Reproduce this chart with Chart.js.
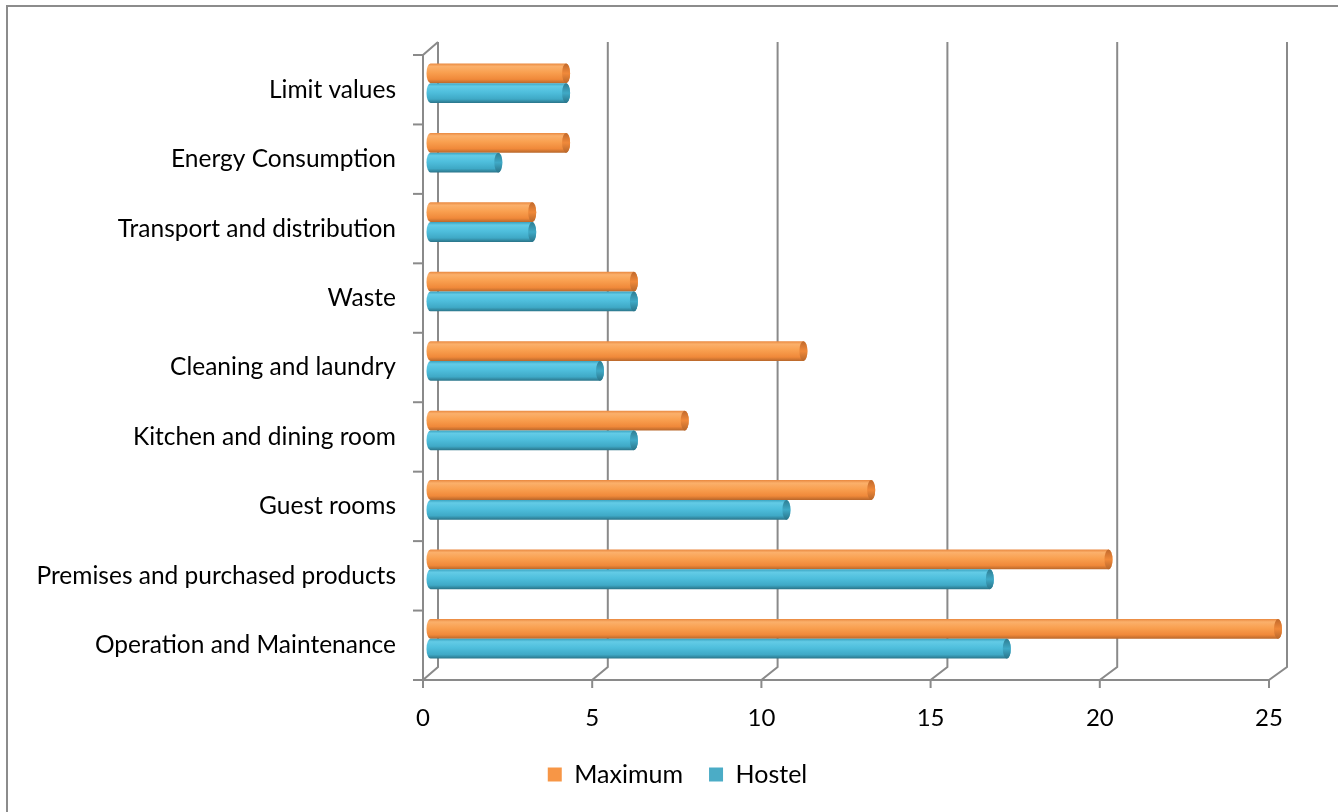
<!DOCTYPE html>
<html>
<head>
<meta charset="utf-8">
<script src="https://cdn.jsdelivr.net/npm/chart.js@4.4.1/dist/chart.umd.min.js"></script>
<style>
  html,body{margin:0;padding:0;background:#fff;overflow:hidden;}
  #wrap{position:absolute;left:0;top:0;width:1338px;height:812px;}
  #frame{position:absolute;left:6px;top:5px;width:1400px;height:900px;border-left:2px solid #8c8c8c;border-top:2px solid #8c8c8c;}
  canvas{position:absolute;left:0;top:0;}
</style>
</head>
<body>
<div id="wrap">
  <div id="frame"></div>
  <canvas id="c" width="1338" height="812"></canvas>
</div>
<script>
const categories = ["Limit values","Energy Consumption","Transport and distribution","Waste","Cleaning and laundry","Kitchen and dining room","Guest rooms","Premises and purchased products","Operation and Maintenance"];
const maximumValues = [4, 4, 3, 6, 11, 7.5, 13, 20, 25];
const hostelValues  = [4, 2, 3, 6, 5, 6, 10.5, 16.5, 17];
const xTicks = [0, 5, 10, 15, 20, 25];

const FONT = "Lato, 'Open Sans', sans-serif";

function shade(ctx, top, h, c) {
  const g = ctx.createLinearGradient(0, top, 0, top + h);
  g.addColorStop(0, c.edge);
  g.addColorStop(0.15, c.light);
  g.addColorStop(0.45, c.main);
  g.addColorStop(0.8, c.main2);
  g.addColorStop(1, c.dark);
  return g;
}
const palettes = [
  {edge:'#e9883f', light:'#fbb06b', main:'#f9a050', main2:'#f0893a', dark:'#b8672b', cap:'#c0692c'},
  {edge:'#3aa3c0', light:'#63cbe6', main:'#4fbfdd', main2:'#3fa9c6', dark:'#2a7489', cap:'#2f7d92'}
];

const legendShift = {
  id: 'legendShift',
  afterLayout(chart) {
    if (chart.legend) { chart.legend.left += 43; chart.legend.right += 43; }
  }
};

const depthPlugin = {
  id: 'depth',
  beforeDatasetsDraw(chart) {
    const ctx = chart.ctx, xs = chart.scales.x, ys = chart.scales.y, a = chart.chartArea;
    const backDX = v => 15 + 3 * v / 25, backDY = -13;
    ctx.save();
    ctx.strokeStyle = '#8a8a8a';
    ctx.lineWidth = 2;
    xTicks.forEach(v => {
      const fx = xs.getPixelForValue(v), bx = fx + backDX(v);
      ctx.beginPath();
      ctx.moveTo(bx, a.top + backDY);
      ctx.lineTo(bx, a.bottom + backDY);
      ctx.lineTo(fx, a.bottom);
      ctx.lineTo(fx, a.bottom + 8);
      ctx.stroke();
    });
    ctx.beginPath();
    ctx.moveTo(a.left, a.bottom);
    ctx.lineTo(a.right, a.bottom);
    ctx.stroke();
    ctx.beginPath();
    ctx.moveTo(a.left + backDX(0), a.top + backDY);
    ctx.lineTo(a.left, a.top);
    ctx.lineTo(a.left, a.bottom);
    ctx.stroke();
    const n = categories.length;
    const step = ys.getPixelForValue(1) - ys.getPixelForValue(0);
    for (let i = 0; i <= n; i++) {
      const y = (i < n) ? ys.getPixelForValue(i) - step / 2 : a.bottom;
      ctx.beginPath();
      ctx.moveTo(a.left - 10, y);
      ctx.lineTo(a.left, y);
      ctx.stroke();
    }
    ctx.restore();
  },
  beforeDatasetDraw() { return false; },
  afterDatasetsDraw(chart) {
    const ctx = chart.ctx;
    const midDX = v => 7.5 + 1.5 * v / 25, midDY = -6.5;
    ctx.save();
    chart.data.datasets.forEach((ds, di) => {
      const meta = chart.getDatasetMeta(di);
      const c = palettes[di];
      meta.data.forEach((el, i) => {
        const v = ds.data[i];
        const p = el.getProps(['x','y','base','height'], true);
        const x0 = p.base + midDX(0), x1 = p.x + midDX(v);
        const h = p.height, top = p.y - h / 2 + midDY;
        const rx = 4, ry = h / 2, cy = top + ry;
        ctx.fillStyle = shade(ctx, top, h, c);
        ctx.beginPath();
        ctx.ellipse(x0, cy, rx, ry, 0, Math.PI / 2, Math.PI * 1.5);
        ctx.lineTo(x1, top);
        ctx.ellipse(x1, cy, rx, ry, 0, -Math.PI / 2, Math.PI / 2);
        ctx.closePath();
        ctx.fill();
        const cg = ctx.createLinearGradient(0, top, 0, top + h);
        cg.addColorStop(0, c.cap);
        cg.addColorStop(0.5, c.main2);
        cg.addColorStop(1, c.dark);
        ctx.fillStyle = cg;
        ctx.beginPath();
        ctx.ellipse(x1, cy, rx, ry, 0, 0, Math.PI * 2);
        ctx.fill();
      });
    });
    ctx.restore();
  }
};

new Chart(document.getElementById('c'), {
  type: 'bar',
  data: {
    labels: categories,
    datasets: [
      { label: 'Maximum', data: maximumValues, backgroundColor: '#f79646', categoryPercentage: 0.57, barPercentage: 1 },
      { label: 'Hostel', data: hostelValues, backgroundColor: '#4bacc6', categoryPercentage: 0.57, barPercentage: 1 }
    ]
  },
  options: {
    indexAxis: 'y',
    responsive: false,
    animation: false,
    layout: { padding: { top: 55, right: 69, left: 0, bottom: 15 } },
    scales: {
      x: {
        min: 0, max: 25,
        afterBuildTicks: s => { s.ticks = xTicks.map(v => ({ value: v })); },
        grid: { display: false },
        border: { display: false },
        ticks: { color: '#000', font: { family: FONT, size: 24 }, padding: 16 },
        afterFit: s => { s.height = 56; }
      },
      y: {
        grid: { display: false },
        border: { display: false },
        ticks: { color: '#000', font: { family: FONT, size: 24.5 }, padding: 19 },
        afterFit: s => { s.width = 423; }
      }
    },
    plugins: {
      legend: {
        position: 'bottom',
        labels: { color: '#000', font: { family: FONT, size: 25 }, boxWidth: 14, boxHeight: 14, padding: 26 }
      },
      tooltip: { enabled: false }
    }
  },
  plugins: [depthPlugin, legendShift]
});
</script>
</body>
</html>
